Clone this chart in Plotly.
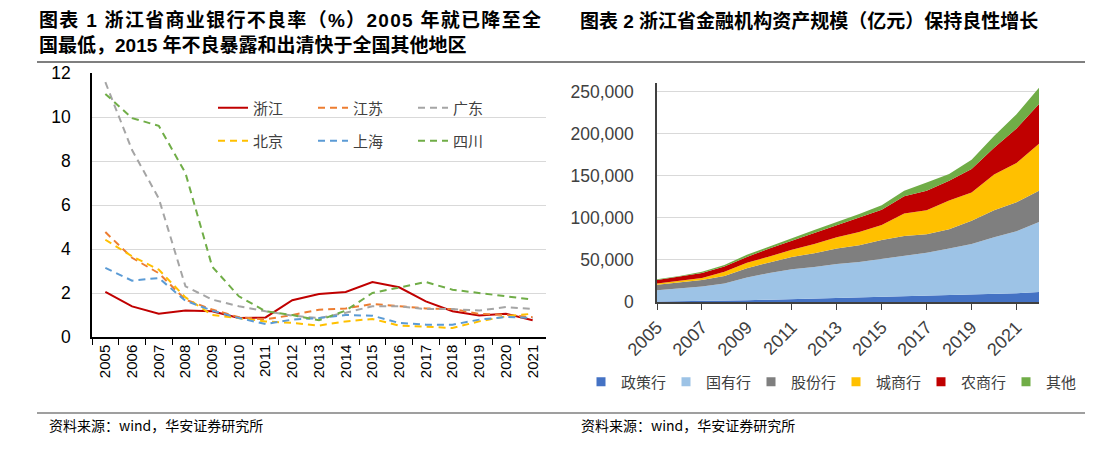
import plotly.graph_objects as go

# page body has an 8px default margin, so the figure is drawn 8px in from the window edge
OFF = 8
W, H = 1093 - OFF, 451 - OFF

# ---------------- data: chart 1 (NPL ratio, %) ----------------
years_l = [str(y) for y in range(2005, 2022)]
zhejiang = [2.05, 1.39, 1.06, 1.20, 1.17, 0.86, 0.89, 1.67, 1.95, 2.05, 2.50, 2.26, 1.62, 1.17, 0.98, 1.06, 0.76]
jiangsu = [4.77, 3.60, 2.90, 1.70, 1.25, 0.90, 0.80, 1.00, 1.24, 1.30, 1.50, 1.40, 1.30, 1.27, 1.05, 1.00, 0.90]
guangdong = [11.58, 8.50, 6.30, 2.30, 1.70, 1.40, 1.17, 0.97, 0.86, 1.10, 1.40, 1.40, 1.27, 1.27, 1.20, 1.36, 1.27]
beijing = [4.42, 3.67, 3.06, 1.80, 1.00, 0.86, 0.71, 0.64, 0.52, 0.71, 0.82, 0.52, 0.48, 0.41, 0.71, 0.94, 1.06]
shanghai = [3.14, 2.56, 2.68, 1.65, 1.20, 0.86, 0.59, 0.79, 0.86, 1.00, 0.97, 0.64, 0.56, 0.56, 0.79, 0.91, 0.86]
sichuan = [11.05, 9.95, 9.60, 7.45, 3.20, 1.85, 1.17, 1.00, 0.76, 1.20, 2.00, 2.26, 2.50, 2.15, 2.00, 1.82, 1.70]

# ---------------- data: chart 2 (assets, 亿元) ----------------
years_r = list(range(2005, 2023))
policy = [600, 800, 1000, 1500, 2200, 2800, 3500, 4300, 5000, 5800, 6300, 7000, 7500, 8200, 9000, 9600, 10300, 12000]
state = [13400, 15700, 17500, 20500, 26800, 31700, 35500, 37200, 40000, 41700, 44700, 48000, 51000, 55300, 60000, 67400, 73700, 83000]
joint = [6500, 6500, 7500, 9000, 11000, 12500, 14500, 16500, 18500, 20000, 22500, 23500, 22000, 23000, 27500, 32000, 34500, 37000]
city = [1500, 2000, 2500, 5000, 6500, 7000, 8500, 11000, 13500, 15500, 18000, 26500, 28500, 34000, 33500, 42500, 46500, 56000]
rural = [4000, 5000, 6000, 6000, 7000, 9500, 11000, 13000, 14000, 17000, 18000, 20500, 23000, 23500, 28000, 31500, 41000, 47000]
other = [1000, 1000, 1500, 2000, 2500, 2500, 3000, 3500, 4000, 4500, 5500, 6500, 10000, 8000, 11000, 14000, 17000, 19500]
xticks_r = list(range(2005, 2022, 2))

title_left_1 = "图表 1 浙江省商业银行不良率（%）2005 年就已降至全"
title_left_2 = "国最低，2015 年不良暴露和出清快于全国其他地区"
title_right = "图表 2 浙江省金融机构资产规模（亿元）保持良性增长"
source_text = "资料来源：wind，华安证券研究所"

FONT_CJK = "Liberation Sans, Noto Sans CJK SC, sans-serif"

def px(x):
    return (x - OFF) / W

def py(y):
    return 1 - (y - OFF) / H

fig = go.Figure()

# ---------------- chart 1 lines ----------------
line_series = [
    ("浙江", zhejiang, "#C00000", "solid", "legend"),
    ("江苏", jiangsu, "#ED7D31", "7px,5px", "legend"),
    ("广东", guangdong, "#A5A5A5", "7px,5px", "legend"),
    ("北京", beijing, "#FFC000", "7px,5px", "legend2"),
    ("上海", shanghai, "#5B9BD5", "7px,5px", "legend2"),
    ("四川", sichuan, "#70AD47", "7px,5px", "legend2"),
]
for name, vals, col, dash, lg in line_series:
    fig.add_trace(go.Scatter(
        x=years_l, y=vals, name=name, mode="lines",
        line=dict(color=col, width=2, dash=dash),
        xaxis="x", yaxis="y", legend=lg,
    ))

# ---------------- chart 2 stacked areas ----------------
area_series = [
    ("政策行", policy, "#4472C4"),
    ("国有行", state, "#9DC3E6"),
    ("股份行", joint, "#7F7F7F"),
    ("城商行", city, "#FFC000"),
    ("农商行", rural, "#C00000"),
    ("其他", other, "#70AD47"),
]
for name, vals, col in area_series:
    fig.add_trace(go.Scatter(
        x=years_r, y=vals, name=name, mode="lines",
        stackgroup="assets", line=dict(width=0, color=col),
        fillcolor=col, xaxis="x2", yaxis="y2", showlegend=False,
    ))
for name, vals, col in area_series:
    fig.add_trace(go.Scatter(
        x=[None], y=[None], name=name, mode="markers",
        marker=dict(symbol="square", size=9, color=col),
        xaxis="x2", yaxis="y2", legend="legend3",
    ))

leg_font = dict(family="Noto Sans CJK SC, sans-serif", size=15, color="#404040")

fig.update_layout(
    width=W, height=H,
    margin=dict(l=0, r=0, t=0, b=0, autoexpand=False),
    paper_bgcolor="white", plot_bgcolor="white",
    font=dict(family=FONT_CJK, color="#000000"),
    xaxis=dict(
        domain=[px(92), px(546)], anchor="y", type="category", automargin=False,
        range=[-0.5, 16.5], tickson="boundaries", ticks="outside", ticklen=6,
        tickcolor="#000000", showline=True, linecolor="#000000", linewidth=1.5,
        tickangle=-90, tickfont=dict(family="Liberation Sans", size=15, color="#000000"),
        showgrid=False,
    ),
    yaxis=dict(
        domain=[py(337), py(73)], anchor="x", range=[0, 12], dtick=2, automargin=False,
        showgrid=True, gridcolor="#D9D9D9", gridwidth=1,
        showline=True, linecolor="#000000", linewidth=1.5,
        tickfont=dict(family="Liberation Sans", size=17.5, color="#000000"),
        ticklabelstandoff=16, zeroline=False,
    ),
    xaxis2=dict(
        domain=[px(657), px(1039)], anchor="y2", range=[2005, 2022], automargin=False,
        tickvals=xticks_r, ticks="outside", ticklen=6, tickcolor="#404040",
        showline=True, linecolor="#404040", linewidth=1.5, showgrid=False,
        tickangle=-45, tickfont=dict(family="Liberation Sans", size=18, color="#404040"),
    ),
    yaxis2=dict(
        domain=[py(302), py(83)], anchor="x2", range=[0, 260000], automargin=False,
        tickvals=[0, 50000, 100000, 150000, 200000, 250000], tickformat=",",
        showgrid=True, gridcolor="#D9D9D9", gridwidth=1,
        showline=True, linecolor="#404040", linewidth=1.5, zeroline=False,
        tickfont=dict(family="Liberation Sans", size=17.5, color="#404040"),
        ticklabelstandoff=18,
    ),
    legend=dict(
        orientation="h", x=px(213), y=py(108), xanchor="left", yanchor="middle",
        entrywidth=55, font=leg_font, bgcolor="rgba(0,0,0,0)", itemwidth=30,
        traceorder="normal",
    ),
    legend2=dict(
        orientation="h", x=px(213), y=py(141), xanchor="left", yanchor="middle",
        entrywidth=55, font=leg_font, bgcolor="rgba(0,0,0,0)", itemwidth=30,
        traceorder="normal",
    ),
    legend3=dict(
        orientation="h", x=px(581), y=py(382), xanchor="left", yanchor="middle",
        entrywidth=40, font=leg_font, bgcolor="rgba(0,0,0,0)", itemwidth=30,
        traceorder="normal",
    ),
)

# titles (first line of the left title is justified in the original, so it is letter-spaced)
fig.add_annotation(text="<b><span style='letter-spacing:1.3px'>" + title_left_1 + "</span></b>",
                   x=px(37), y=py(20), xref="paper", yref="paper",
                   xanchor="left", yanchor="middle", align="left", showarrow=False,
                   font=dict(family=FONT_CJK, size=19, color="#000000"))
fig.add_annotation(text="<b>" + title_left_2 + "</b>", x=px(37), y=py(45), xref="paper", yref="paper",
                   xanchor="left", yanchor="middle", align="left", showarrow=False,
                   font=dict(family=FONT_CJK, size=19, color="#000000"))
fig.add_annotation(text="<b>" + title_right + "</b>", x=px(578), y=py(21), xref="paper", yref="paper",
                   xanchor="left", yanchor="middle", align="left", showarrow=False,
                   font=dict(family=FONT_CJK, size=19, color="#000000"))
# sources
for sx in (47, 579):
    fig.add_annotation(text=source_text, x=px(sx), y=py(425), xref="paper", yref="paper",
                       xanchor="left", yanchor="middle", showarrow=False,
                       font=dict(family="Noto Sans CJK SC, sans-serif", size=14, color="#000000"))

# rules
fig.add_shape(type="line", xref="paper", yref="paper", x0=px(37), x1=px(1086), y0=py(62), y1=py(62),
              line=dict(color="#7F7F7F", width=2))
fig.add_shape(type="line", xref="paper", yref="paper", x0=px(37), x1=px(1086), y0=py(413), y1=py(413),
              line=dict(color="#7F7F7F", width=1.5))

fig.write_html("out.html")
